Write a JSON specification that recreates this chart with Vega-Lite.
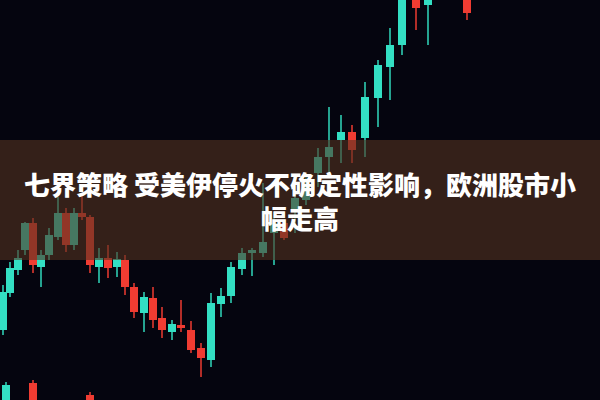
{
  "$schema": "https://vega.github.io/schema/vega-lite/v6.json",
  "width": 600,
  "height": 400,
  "autosize": {"type": "fit", "contains": "padding"},
  "padding": 0,
  "background": "#05050f",
  "config": {"view": {"stroke": null}},
  "datasets": {
    "candles": [
      {"t": 3, "o": 70, "h": 115, "l": 65, "c": 108},
      {"t": 10, "o": 107, "h": 138, "l": 103, "c": 132},
      {"t": 18, "o": 130, "h": 150, "l": 125, "c": 142},
      {"t": 25, "o": 150, "h": 178, "l": 145, "c": 177},
      {"t": 33, "o": 177, "h": 182, "l": 127, "c": 135},
      {"t": 41, "o": 133, "h": 150, "l": 113, "c": 145},
      {"t": 49, "o": 145, "h": 172, "l": 140, "c": 165},
      {"t": 58, "o": 163, "h": 203, "l": 160, "c": 187},
      {"t": 66, "o": 187, "h": 192, "l": 148, "c": 155},
      {"t": 74, "o": 155, "h": 192, "l": 150, "c": 187},
      {"t": 82, "o": 187, "h": 207, "l": 180, "c": 183},
      {"t": 90, "o": 183, "h": 185, "l": 127, "c": 135},
      {"t": 99, "o": 133, "h": 152, "l": 117, "c": 142},
      {"t": 108, "o": 142, "h": 155, "l": 122, "c": 132},
      {"t": 117, "o": 133, "h": 148, "l": 123, "c": 141},
      {"t": 125, "o": 140, "h": 145, "l": 105, "c": 113},
      {"t": 134, "o": 113, "h": 117, "l": 82, "c": 88},
      {"t": 144, "o": 87, "h": 108, "l": 68, "c": 103},
      {"t": 153, "o": 102, "h": 113, "l": 72, "c": 80},
      {"t": 162, "o": 82, "h": 93, "l": 62, "c": 70},
      {"t": 172, "o": 68, "h": 80, "l": 60, "c": 76},
      {"t": 181, "o": 75, "h": 100, "l": 68, "c": 72},
      {"t": 191, "o": 70, "h": 79, "l": 47, "c": 50},
      {"t": 201, "o": 52, "h": 57, "l": 23, "c": 42},
      {"t": 211, "o": 40, "h": 107, "l": 33, "c": 97},
      {"t": 221, "o": 96, "h": 112, "l": 83, "c": 104},
      {"t": 231, "o": 104, "h": 138, "l": 97, "c": 133},
      {"t": 242, "o": 131, "h": 152, "l": 125, "c": 147},
      {"t": 252, "o": 147, "h": 152, "l": 124, "c": 150},
      {"t": 263, "o": 147, "h": 217, "l": 143, "c": 158},
      {"t": 274, "o": 167, "h": 188, "l": 135, "c": 177},
      {"t": 284, "o": 177, "h": 180, "l": 160, "c": 162},
      {"t": 295, "o": 188, "h": 210, "l": 167, "c": 202},
      {"t": 306, "o": 200, "h": 227, "l": 195, "c": 213},
      {"t": 318, "o": 227, "h": 252, "l": 213, "c": 243},
      {"t": 329, "o": 243, "h": 293, "l": 227, "c": 253},
      {"t": 341, "o": 260, "h": 285, "l": 237, "c": 268},
      {"t": 352, "o": 268, "h": 275, "l": 237, "c": 250},
      {"t": 365, "o": 262, "h": 318, "l": 243, "c": 303},
      {"t": 378, "o": 302, "h": 340, "l": 273, "c": 335},
      {"t": 390, "o": 333, "h": 372, "l": 300, "c": 355},
      {"t": 402, "o": 355, "h": 415, "l": 345, "c": 410},
      {"t": 416, "o": 415, "h": 420, "l": 370, "c": 392},
      {"t": 428, "o": 395, "h": 415, "l": 355, "c": 410},
      {"t": 467, "o": 415, "h": 420, "l": 380, "c": 387},
      {"t": 6, "o": -10, "h": 18, "l": -10, "c": 15},
      {"t": 33, "o": 17, "h": 20, "l": -10, "c": -10},
      {"t": 90, "o": 5, "h": 8, "l": -10, "c": -10}
    ],
    "banner": [{"t0": 0, "t1": 600, "p0": 140, "p1": 260}],
    "headline": [
      {"t": 300, "p": 213, "line": "七界策略 受美伊停火不确定性影响，欧洲股市小"},
      {"t": 300, "p": 179, "line": "幅走高"}
    ]
  },
  "layer": [
    {
      "data": {"name": "candles"},
      "mark": {"type": "rule", "strokeWidth": 1.5, "clip": true},
      "encoding": {
        "x": {"field": "t", "type": "quantitative", "scale": {"domain": [0, 600], "padding": 0, "nice": false, "zero": false}, "axis": null},
        "y": {"field": "l", "type": "quantitative", "scale": {"domain": [0, 400], "padding": 0, "nice": false, "zero": false}, "axis": null},
        "y2": {"field": "h"},
        "color": {"condition": {"test": "datum.c >= datum.o", "value": "#30d8bc"}, "value": "#ee3b32"}
      }
    },
    {
      "data": {"name": "candles"},
      "mark": {"type": "bar", "size": 8, "clip": true},
      "encoding": {
        "x": {"field": "t", "type": "quantitative"},
        "y": {"field": "o", "type": "quantitative"},
        "y2": {"field": "c"},
        "color": {"condition": {"test": "datum.c >= datum.o", "value": "#33dfc3"}, "value": "#f03c32"}
      }
    },
    {
      "data": {"name": "banner"},
      "mark": {"type": "rect", "color": "#543220", "opacity": 0.6},
      "encoding": {
        "x": {"field": "t0", "type": "quantitative"},
        "x2": {"field": "t1"},
        "y": {"field": "p0", "type": "quantitative"},
        "y2": {"field": "p1"}
      }
    },
    {
      "data": {"name": "headline"},
      "mark": {"type": "text", "font": "Noto Sans CJK SC", "fontWeight": 900, "fontSize": 26, "color": "#ffffff", "align": "center", "baseline": "middle"},
      "encoding": {
        "x": {"field": "t", "type": "quantitative"},
        "y": {"field": "p", "type": "quantitative"},
        "text": {"field": "line"}
      }
    }
  ]
}
